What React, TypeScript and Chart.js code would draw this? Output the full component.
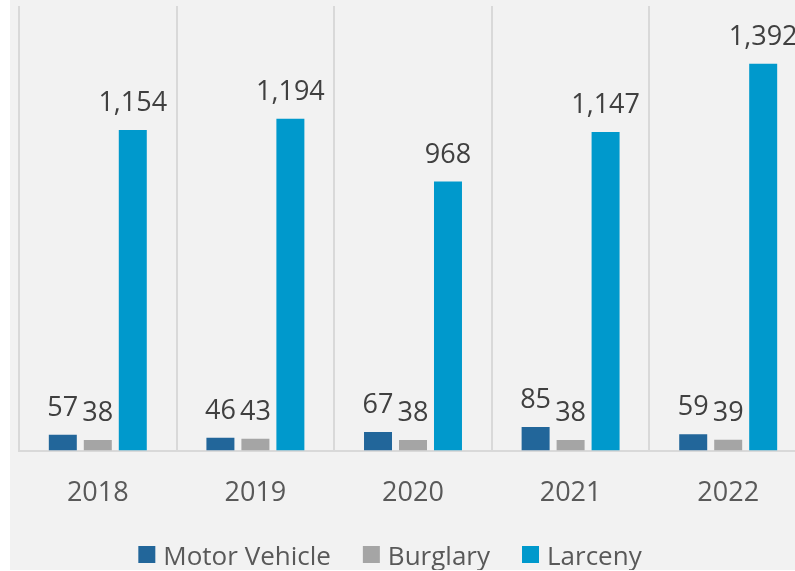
import React, { useEffect, useRef } from "react";
import { Chart, registerables } from "chart.js";

Chart.register(...registerables);

const categories = ["2018", "2019", "2020", "2021", "2022"];
const motorVehicle = [57, 46, 67, 85, 59];
const burglary = [38, 43, 38, 38, 39];
const larceny = [1154, 1194, 968, 1147, 1392];

const FONT = "'Open Sans', 'DejaVu Sans', sans-serif";

const dataLabels = {
  id: "dataLabels",
  afterDatasetsDraw(chart: any) {
    const ctx = chart.ctx;
    ctx.save();
    ctx.font = `27px ${FONT}`;
    ctx.fillStyle = "#404040";
    ctx.textAlign = "center";
    ctx.textBaseline = "alphabetic";
    chart.data.datasets.forEach((ds: any, i: number) => {
      const meta = chart.getDatasetMeta(i);
      meta.data.forEach((bar: any, j: number) => {
        const v = ds.data[j];
        ctx.fillText(v.toLocaleString("en-US"), bar.x, bar.y - 19);
      });
    });
    ctx.restore();
  },
};

const customLegend = {
  id: "customLegend",
  afterDraw(chart: any) {
    const ctx = chart.ctx;
    ctx.save();
    ctx.font = `26px ${FONT}`;
    ctx.textBaseline = "alphabetic";
    ctx.textAlign = "left";
    const box = 17;
    const gapBoxText = 8;
    const gapItems = 32;
    const items = chart.data.datasets.map((ds: any) => ({
      label: ds.label,
      color: ds.backgroundColor,
      w: ctx.measureText(ds.label).width,
    }));
    const total =
      items.reduce((s: number, it: any) => s + box + gapBoxText + it.w, 0) +
      gapItems * (items.length - 1);
    let x = 380 - total / 2;
    const baseline = 565;
    items.forEach((it: any) => {
      ctx.fillStyle = it.color;
      ctx.fillRect(x, baseline - 19, box, box);
      x += box + gapBoxText;
      ctx.fillStyle = "#595959";
      ctx.fillText(it.label, x, baseline);
      x += it.w + gapItems;
    });
    ctx.restore();
  },
};

export default function App() {
  const ref = useRef<HTMLCanvasElement>(null);
  useEffect(() => {
    if (!ref.current) return;
    const chart = new Chart(ref.current, {
      type: "bar",
      data: {
        labels: categories,
        datasets: [
          { label: "Motor Vehicle", data: motorVehicle, backgroundColor: "#22669a" },
          { label: "Burglary", data: burglary, backgroundColor: "#a5a5a5" },
          { label: "Larceny", data: larceny, backgroundColor: "#0099cc" },
        ],
      },
      options: {
        responsive: false,
        animation: false,
        layout: { padding: { left: 9, right: 19, top: 6, bottom: 33 } },
        datasets: {
          bar: { categoryPercentage: 0.666, barPercentage: 0.8 },
        },
        scales: {
          x: {
            grid: { display: true, color: "#d9d9d9", lineWidth: 2, drawTicks: false, offset: true },
            border: { display: true, color: "#d9d9d9", width: 2 },
            ticks: { color: "#595959", font: { family: FONT, size: 27 }, padding: 27 },
          },
          y: {
            display: false,
            min: 0,
            max: 1600,
          },
        },
        plugins: {
          legend: { display: false },
          tooltip: { enabled: false },
        },
      },
      plugins: [dataLabels, customLegend],
    });
    return () => chart.destroy();
  }, []);
  return (
    <div style={{ position: "fixed", left: 0, top: 0, width: 795, height: 571, overflow: "hidden", background: "#ffffff" }}>
      <div style={{ position: "absolute", left: 10, top: 0, width: 816, height: 570, background: "#f2f2f2" }}>
        <canvas ref={ref} width={816} height={570} style={{ display: "block" }} />
      </div>
    </div>
  );
}
